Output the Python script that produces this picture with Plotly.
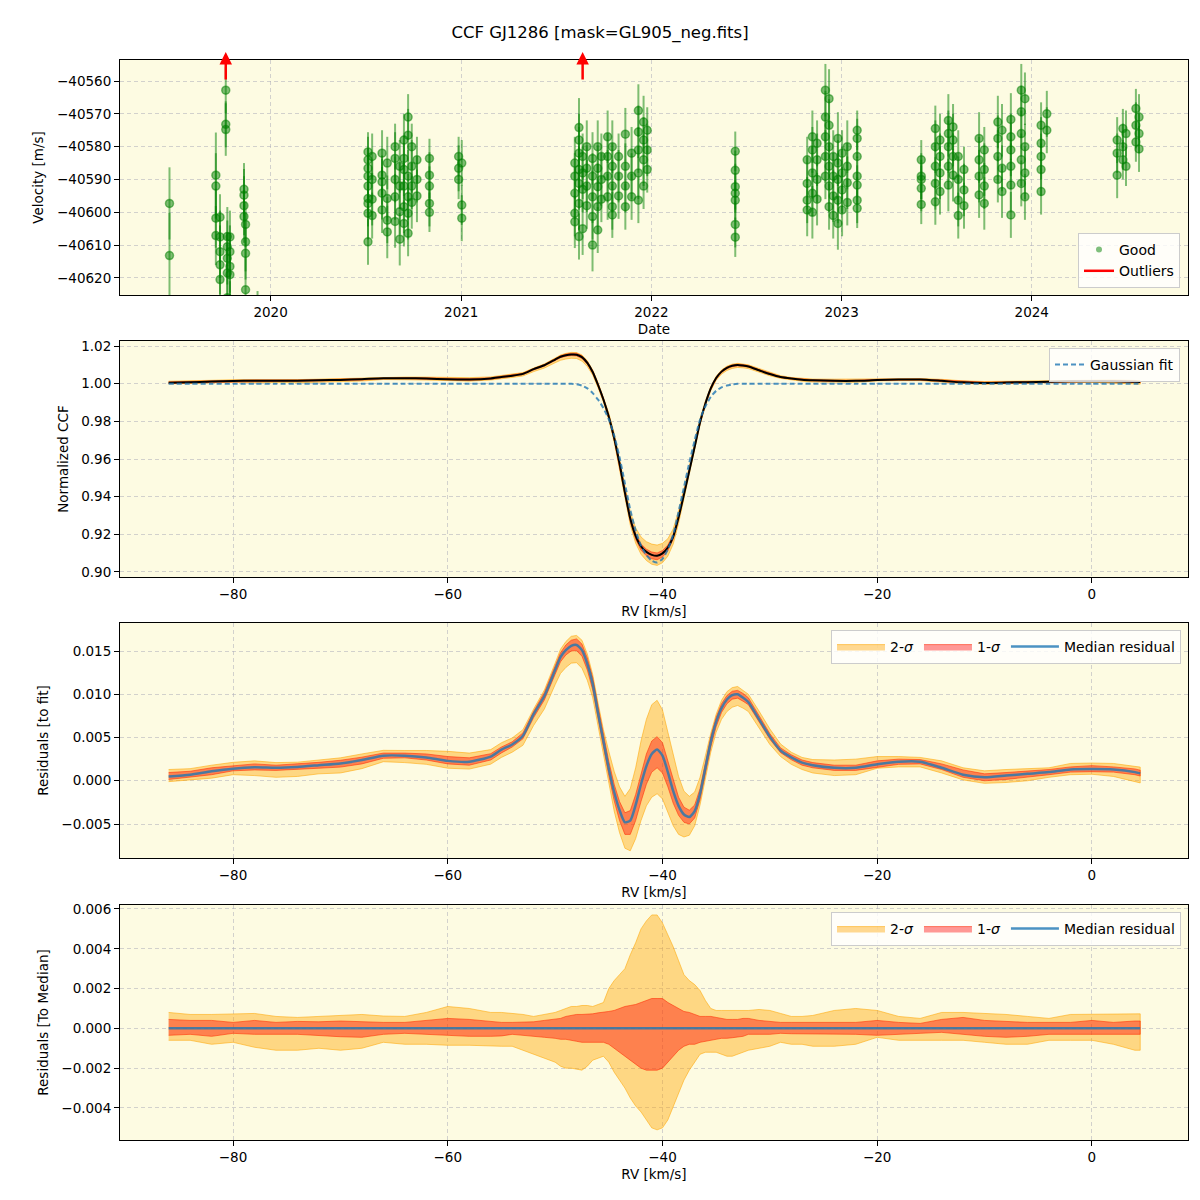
import numpy as np
import plotly.graph_objects as go

# ---------------- Panel 1 : RV time series ----------------
night_dates = [
    '2019-06-21', '2019-09-18', '2019-09-26', '2019-10-07', '2019-10-10', '2019-10-15',
    '2019-11-11', '2019-11-14', '2019-12-07',
    '2020-07-06', '2020-07-14', '2020-08-02', '2020-08-12', '2020-08-27', '2020-09-05',
    '2020-09-13', '2020-09-21', '2020-09-28', '2020-10-08', '2020-11-01', '2020-12-27', '2021-01-02',
    '2021-08-07', '2021-08-15', '2021-08-22', '2021-08-30', '2021-09-10', '2021-09-20',
    '2021-09-27', '2021-10-09', '2021-10-18', '2021-10-30', '2021-11-12', '2021-11-24',
    '2021-12-07', '2021-12-17', '2021-12-24',
    '2022-06-11', '2022-10-27', '2022-11-06', '2022-11-15', '2022-12-01', '2022-12-08',
    '2022-12-16', '2022-12-25', '2023-01-02', '2023-01-12', '2023-01-31',
    '2023-06-03', '2023-06-30', '2023-07-09', '2023-07-25', '2023-08-03', '2023-08-13',
    '2023-08-24', '2023-09-22', '2023-10-02', '2023-10-28', '2023-11-05', '2023-11-22',
    '2023-12-12', '2023-12-19', '2024-01-19', '2024-01-30',
    '2024-06-13', '2024-06-24', '2024-06-30', '2024-07-19', '2024-07-25',
]
night_rv = [
    [-40597.3, -40613.2],
    [-40588.7, -40592.0, -40601.8, -40607.1],
    [-40601.5, -40607.5, -40612.0, -40616.0, -40620.5],
    [-40562.8, -40573.2, -40574.8],
    [-40607.4, -40610.5, -40614.0, -40618.5, -40626.0],
    [-40607.5, -40612.0, -40616.5, -40619.0, -40630.0],
    [-40593.0, -40594.8, -40598.0, -40601.3],
    [-40603.7, -40609.0, -40612.5, -40623.6],
    [-40633.0],
    [-40581.6, -40584.0, -40586.6, -40589.0, -40592.0, -40595.8, -40597.3, -40600.3, -40609.0],
    [-40583.0, -40590.0, -40596.0, -40601.0],
    [-40582.0, -40588.7, -40590.7, -40594.2, -40599.3],
    [-40585.0, -40595.8, -40602.4, -40606.0],
    [-40580.0, -40583.6, -40590.0, -40595.3, -40602.8],
    [-40586.0, -40592.0, -40599.8, -40608.2],
    [-40578.0, -40583.6, -40587.0, -40592.0, -40598.3, -40603.4],
    [-40571.0, -40576.5, -40589.0, -40595.3, -40600.3, -40606.4],
    [-40580.0, -40586.0, -40592.0, -40597.0],
    [-40584.0, -40590.0, -40595.0],
    [-40583.6, -40588.7, -40592.0, -40597.3, -40600.0],
    [-40583.0, -40586.6, -40590.0],
    [-40585.0, -40597.8, -40601.8],
    [-40585.0, -40589.0, -40594.2, -40600.3, -40602.9],
    [-40574.2, -40578.0, -40582.0, -40587.0, -40591.2, -40597.3, -40607.4],
    [-40583.0, -40588.0, -40593.0, -40605.0],
    [-40580.0, -40586.6, -40592.0, -40598.0],
    [-40583.6, -40589.0, -40595.3, -40601.3, -40610.0],
    [-40580.0, -40586.6, -40592.2, -40598.3, -40605.4],
    [-40583.0, -40590.0, -40596.0],
    [-40577.0, -40583.0, -40589.0, -40595.3],
    [-40580.0, -40586.0, -40592.0, -40598.3, -40600.8],
    [-40583.0, -40589.0, -40595.0],
    [-40576.2, -40586.0, -40592.0, -40598.3],
    [-40582.0, -40589.0, -40595.3],
    [-40569.0, -40575.5, -40581.0, -40588.0, -40596.3],
    [-40572.5, -40578.0, -40584.0, -40592.0],
    [-40575.0, -40581.0, -40587.0],
    [-40581.4, -40587.2, -40592.2, -40594.2, -40596.3, -40603.7, -40607.6],
    [-40584.0, -40591.2, -40596.3, -40599.3],
    [-40577.0, -40581.0, -40588.0, -40594.2, -40600.0],
    [-40579.0, -40584.0, -40590.0, -40596.0],
    [-40562.8, -40571.0, -40577.0, -40583.0, -40589.0],
    [-40565.4, -40573.5, -40580.0, -40586.0, -40592.0, -40598.3],
    [-40583.0, -40589.0, -40595.0, -40601.0],
    [-40577.5, -40585.0, -40590.0, -40596.3, -40603.4],
    [-40582.0, -40588.0, -40593.2, -40599.3],
    [-40580.0, -40586.0, -40591.0, -40597.0],
    [-40575.0, -40577.5, -40583.0, -40589.0, -40591.7, -40596.3, -40598.8],
    [-40584.0, -40589.0, -40590.0, -40592.7, -40597.6],
    [-40574.5, -40580.0, -40586.0, -40591.2, -40596.8],
    [-40578.0, -40583.0, -40588.0, -40593.7],
    [-40572.0, -40576.0, -40580.0, -40586.0, -40591.7],
    [-40574.0, -40578.0, -40583.0, -40588.7],
    [-40583.0, -40590.0, -40596.3, -40601.0],
    [-40587.0, -40593.2, -40598.0],
    [-40577.5, -40584.0, -40589.0, -40594.7],
    [-40581.0, -40587.0, -40592.0, -40597.3],
    [-40572.5, -40577.5, -40583.0, -40590.0],
    [-40575.0, -40586.6, -40593.7],
    [-40571.7, -40577.0, -40581.0, -40586.0, -40591.7, -40600.8],
    [-40562.8, -40569.4, -40576.0, -40584.0, -40591.2],
    [-40565.4, -40580.0, -40588.0, -40595.3],
    [-40573.5, -40579.0, -40583.0, -40587.0, -40593.7],
    [-40570.0, -40575.0],
    [-40578.0, -40582.0, -40588.7],
    [-40574.5, -40580.0, -40584.0],
    [-40576.0, -40586.0],
    [-40568.4, -40573.5, -40578.6],
    [-40571.0, -40576.0, -40580.7],
]
night_err = [
    [11, 13], [13, 10, 9, 9], [7, 8, 8, 9, 9], [7, 7, 8], [9, 8, 8, 9, 10], [8, 8, 8, 7, 9],
    [8, 8, 9, 8], [7, 9, 8, 10], [9],
    [6, 7, 6, 7, 8, 6, 7, 8, 7], [7, 6, 8, 7], [7, 6, 7, 8, 7], [8, 7, 7, 8], [7, 8, 7, 7, 8],
    [8, 7, 7, 8], [8, 7, 8, 7, 8, 7], [7, 8, 8, 7, 8, 7], [7, 8, 7, 8], [7, 7, 8],
    [6, 7, 6, 7, 6], [6, 7, 6], [7, 6, 7],
    [8, 7, 8, 7, 8], [9, 8, 8, 7, 8, 8, 7], [7, 8, 7, 8], [8, 7, 8, 7], [8, 7, 8, 7, 8],
    [8, 7, 7, 8, 7], [7, 8, 7], [8, 7, 8, 7], [8, 7, 8, 7, 7], [7, 8, 7], [8, 7, 8, 7],
    [8, 7, 7], [8, 8, 7, 8, 7], [8, 7, 8, 7], [7, 8, 7],
    [6, 6, 7, 6, 6, 7, 6], [7, 8, 7, 8], [8, 7, 8, 7, 8], [7, 8, 7, 8], [8, 8, 7, 8, 7],
    [9, 8, 8, 7, 8, 7], [8, 7, 8, 7], [8, 7, 8, 7, 8], [7, 8, 7, 8], [8, 7, 8, 7],
    [6, 6, 7, 6, 6, 7, 6],
    [6, 7, 6, 7, 6], [7, 8, 7, 8, 7], [8, 7, 8, 7], [8, 7, 8, 7, 8], [7, 8, 7, 8],
    [8, 7, 8, 7], [7, 8, 7], [8, 7, 8, 7], [7, 8, 7, 8], [8, 7, 8, 7], [8, 7, 8],
    [8, 7, 8, 7, 8, 7], [8, 8, 7, 8, 7], [8, 7, 8, 7], [7, 8, 7, 8, 7], [7, 7],
    [7, 6, 7], [6, 7, 6], [7, 6], [6, 7, 6], [7, 6, 7],
]
outlier_dates = ['2019-10-07', '2021-08-22']
outlier_tail_rv = -40560.0

# ---------------- Panels 2-4 : CCF ----------------
rv = [-86, -84, -82, -80, -78, -76, -74, -72, -70, -68, -66, -64, -62, -60, -58, -56,
      -55, -54, -53, -52, -51, -50,
      -49.5, -49, -48.5, -48, -47.5, -47, -46.5, -46, -45.5, -45,
      -44.5, -44, -43.5, -43, -42.5, -42, -41.5, -41, -40.5, -40,
      -39.5, -39, -38.5, -38, -37.5, -37, -36.5, -36, -35.5, -35,
      -34.5, -34, -33.5, -33, -32.5, -32,
      -31, -30, -29, -28, -27, -26,
      -24, -22, -20, -18, -16, -14, -12, -10, -8, -6, -4, -2, 0, 2, 4, 4.5]

gauss_fit = [1.0] * 16 + [1.0] * 6 + [
    1.0, 1.0, 0.9999, 0.9997, 0.9990, 0.9975, 0.9950, 0.9915, 0.9870, 0.9810,
    0.9725, 0.9610, 0.9470, 0.9330, 0.9220, 0.9140, 0.9090, 0.9060, 0.9050, 0.9070,
    0.9120, 0.9200, 0.9320, 0.9450, 0.9580, 0.9700, 0.9810, 0.9880, 0.9930, 0.9962,
    0.9980, 0.9990, 0.9996, 0.9999, 1.0, 1.0] + [1.0] * 6 + [1.0] * 15 + [1.0]

resid_median = [
    0.0005, 0.0007, 0.0011, 0.0014, 0.00155, 0.0015, 0.0016, 0.0018, 0.0020, 0.0024, 0.0029, 0.0029, 0.0027, 0.0023, 0.0022, 0.0028,
    0.0036, 0.0042, 0.0052, 0.0077, 0.0098, 0.0128,
    0.0143, 0.0151, 0.0156, 0.0157, 0.0151, 0.0135, 0.0112, 0.0078, 0.0046, 0.0014,
    -0.0013, -0.0034, -0.0048, -0.0046, -0.0028, -0.0004, 0.0017, 0.0031, 0.0036, 0.0029,
    0.0010, -0.0012, -0.0029, -0.0039, -0.0042, -0.0035, -0.0015, 0.0015, 0.0045, 0.0068,
    0.0084, 0.0094, 0.0099, 0.0100, 0.0096, 0.0091,
    0.0071, 0.0051, 0.0035, 0.0027, 0.0021, 0.0018,
    0.0015, 0.0015, 0.0019, 0.0022, 0.0022, 0.0015, 0.0007, 0.0004, 0.0006, 0.0008, 0.0010, 0.0013, 0.00135, 0.0013, 0.0010,
    0.00085]

# spread of the individual CCFs around the median (relative to median)
sig2_up = [
    0.0008, 0.0007, 0.0007, 0.00073, 0.00075, 0.0006, 0.00055, 0.0006, 0.00065, 0.0007, 0.00062, 0.0006, 0.0008, 0.0011, 0.0010, 0.0008,
    0.0008, 0.00075, 0.0007, 0.0006, 0.0007, 0.0008,
    0.0009, 0.0010, 0.0011, 0.0011, 0.00115, 0.00115, 0.0011, 0.0012, 0.0013, 0.0020,
    0.0024, 0.0027, 0.0030, 0.0037, 0.0043, 0.0050, 0.0054, 0.0057, 0.0057, 0.0053,
    0.0047, 0.0041, 0.0034, 0.0027, 0.0024, 0.0022, 0.0019, 0.0014, 0.0010, 0.0009,
    0.0009, 0.0009, 0.00087, 0.0009, 0.0009, 0.0009,
    0.00095, 0.0009, 0.00075, 0.0006, 0.0006, 0.00065,
    0.0009, 0.0010, 0.0009, 0.0006, 0.0005, 0.0008, 0.0008, 0.00075, 0.0007, 0.0006, 0.0005, 0.0007, 0.0007, 0.0007, 0.00073,
    0.00073]
sig2_lo = [
    -0.0006, -0.0006, -0.0008, -0.0007, -0.00095, -0.0011, -0.0011, -0.0010, -0.0011, -0.0010, -0.0007, -0.0008, -0.0008, -0.00085, -0.00085, -0.00088,
    -0.0009, -0.0009, -0.0011, -0.0013, -0.0015, -0.0017,
    -0.0019, -0.0020, -0.0020, -0.00205, -0.0021, -0.0019, -0.0016, -0.0015, -0.0014, -0.0017,
    -0.0022, -0.0026, -0.0030, -0.0035, -0.0039, -0.0042, -0.0046, -0.0050, -0.0051, -0.0050,
    -0.0046, -0.0040, -0.0033, -0.0026, -0.0021, -0.0017, -0.0013, -0.0012, -0.0012, -0.0012,
    -0.0013, -0.0014, -0.0014, -0.0013, -0.0012, -0.0011,
    -0.0010, -0.0009, -0.0007, -0.0008, -0.0008, -0.0009,
    -0.0009, -0.0008, -0.00045, -0.0006, -0.0006, -0.0006, -0.0006, -0.0007, -0.0008, -0.0008, -0.0006, -0.0006, -0.0006, -0.0008, -0.0011,
    -0.0011]
sig1_up = [
    0.00045, 0.0004, 0.0004, 0.0003, 0.0004, 0.0003, 0.00035, 0.00033, 0.00037, 0.00033, 0.0003, 0.0003, 0.0004, 0.0005, 0.00045, 0.00033,
    0.0003, 0.0003, 0.00033, 0.00033, 0.0004, 0.00045,
    0.0005, 0.0006, 0.00065, 0.0007, 0.0007, 0.0007, 0.00073, 0.00078, 0.0008, 0.00085,
    0.0009, 0.0010, 0.0011, 0.00115, 0.0012, 0.0013, 0.0014, 0.0015, 0.0015, 0.0015,
    0.0013, 0.00115, 0.0010, 0.00085, 0.0008, 0.0007, 0.0006, 0.0006, 0.0006, 0.00055,
    0.0005, 0.00045, 0.00045, 0.00045, 0.0005, 0.0005,
    0.0004, 0.00035, 0.0003, 0.0003, 0.0003, 0.0003,
    0.0003, 0.0003, 0.0004, 0.0003, 0.00025, 0.00045, 0.00055, 0.0004, 0.00035, 0.0003, 0.0003, 0.0003, 0.0004, 0.0003, 0.00037,
    0.00037]
sig1_lo = [
    -0.00035, -0.0003, -0.0004, -0.00025, -0.0003, -0.0003, -0.0003, -0.00035, -0.00042, -0.00045, -0.0003, -0.00025, -0.0003, -0.00035, -0.0004, -0.0004,
    -0.00038, -0.0003, -0.00035, -0.0004, -0.00045, -0.0005,
    -0.00055, -0.00055, -0.0006, -0.00065, -0.0007, -0.0007, -0.0007, -0.0007, -0.0007, -0.0008,
    -0.0010, -0.0012, -0.0014, -0.0016, -0.0018, -0.0020, -0.0021, -0.0021, -0.0021, -0.0020,
    -0.0017, -0.0014, -0.0011, -0.0009, -0.0008, -0.0008, -0.0007, -0.00065, -0.0006, -0.00055,
    -0.0005, -0.0005, -0.00047, -0.00045, -0.0004, -0.0003,
    -0.0003, -0.0003, -0.00025, -0.00027, -0.0003, -0.0003,
    -0.0003, -0.0003, -0.00035, -0.0003, -0.00025, -0.0002, -0.0003, -0.0004, -0.00045, -0.0004, -0.0003, -0.0003, -0.0003, -0.0003, -0.0003,
    -0.0003]

# ---------------- derived ----------------
obs_date, obs_rv, obs_err = [], [], []
for d, vals, errs in zip(night_dates, night_rv, night_err):
    obs_date += [d] * len(vals)
    obs_rv += vals
    obs_err += errs

rv_a = np.array(rv, dtype=float)
fit_a = np.array(gauss_fit)
med_a = np.array(resid_median)
u2, l2 = np.array(sig2_up), np.array(sig2_lo)
u1, l1 = np.array(sig1_up), np.array(sig1_lo)
ccf_median = fit_a + med_a
to_median = med_a - med_a

FONT = 'DejaVu Sans'
BG = 'rgb(253,251,226)'
GRID = 'rgba(175,175,185,0.55)'
C2 = 'rgba(255,165,0,0.42)'
C2E = 'rgba(255,165,0,0.55)'
C1 = 'rgba(255,0,0,0.40)'
C1E = 'rgba(255,40,0,0.55)'
BLUE = 'rgba(31,119,180,0.8)'
GREEN = 'rgba(0,128,0,0.5)'

fig = go.Figure()


def band(xa, ya, lo, hi, fc, ec, name, show, legend):
    xs = list(xa) + list(xa[::-1])
    ys = list(hi) + list(lo[::-1])
    return go.Scatter(x=xs, y=ys, mode='lines', fill='toself', fillcolor=fc,
                      line=dict(color=ec, width=1), name=name, showlegend=show,
                      legend=legend, xaxis=ya[0], yaxis=ya[1], hoverinfo='skip')


# panel 1
fig.add_trace(go.Scatter(
    x=obs_date, y=obs_rv, mode='markers', name='Good', showlegend=False,
    marker=dict(color=GREEN, size=8, line=dict(color=GREEN, width=1.5)),
    error_y=dict(type='data', array=obs_err, color=GREEN, thickness=2, width=0),
    xaxis='x', yaxis='y'))
fig.add_trace(go.Scatter(x=[None], y=[None], mode='markers', name='Good',
                         marker=dict(color=GREEN, size=6), xaxis='x', yaxis='y', legend='legend'))
fig.add_trace(go.Scatter(x=[None], y=[None], mode='lines', name='Outliers',
                         line=dict(color='red', width=2.5), xaxis='x', yaxis='y', legend='legend'))

# panel 2
fig.add_trace(band(rv_a, ('x2', 'y2'), ccf_median + l2, ccf_median + u2, C2, C2E, '2-σ', False, 'legend2'))
fig.add_trace(band(rv_a, ('x2', 'y2'), ccf_median + l1, ccf_median + u1, C1, C1E, '1-σ', False, 'legend2'))
fig.add_trace(go.Scatter(x=rv, y=ccf_median, mode='lines', line=dict(color='black', width=2, shape='spline', smoothing=0.6),
                         showlegend=False, xaxis='x2', yaxis='y2'))
fig.add_trace(go.Scatter(x=rv, y=gauss_fit, mode='lines', name='Gaussian fit',
                         line=dict(color=BLUE, width=2, dash='5px,3px', shape='spline', smoothing=0.6),
                         xaxis='x2', yaxis='y2', legend='legend2'))

# panel 3
fig.add_trace(band(rv_a, ('x3', 'y3'), med_a + l2, med_a + u2, C2, C2E, '2-<i>σ</i>', True, 'legend3'))
fig.add_trace(band(rv_a, ('x3', 'y3'), med_a + l1, med_a + u1, C1, C1E, '1-<i>σ</i>', True, 'legend3'))
fig.add_trace(go.Scatter(x=rv, y=resid_median, mode='lines', name='Median residual',
                         line=dict(color=BLUE, width=2.5, shape='spline', smoothing=0.6),
                         xaxis='x3', yaxis='y3', legend='legend3'))

# panel 4
fig.add_trace(band(rv_a, ('x4', 'y4'), to_median + l2, to_median + u2, C2, C2E, '2-<i>σ</i>', True, 'legend4'))
fig.add_trace(band(rv_a, ('x4', 'y4'), to_median + l1, to_median + u1, C1, C1E, '1-<i>σ</i>', True, 'legend4'))
fig.add_trace(go.Scatter(x=rv, y=to_median, mode='lines', name='Median residual',
                         line=dict(color=BLUE, width=2.5),
                         xaxis='x4', yaxis='y4', legend='legend4'))

H = 1200.0


def ydom(top_px, bot_px):
    return [1 - bot_px / H, 1 - top_px / H]


common = dict(showgrid=True, gridcolor=GRID, griddash='4px,3px', gridwidth=1, zeroline=False,
              showline=True, linecolor='black', linewidth=1, mirror=True,
              ticks='outside', ticklen=5, tickwidth=1, tickcolor='black',
              tickfont=dict(family=FONT, size=13.5, color='black'), automargin=False)
xdom = [120 / 1200, 1188 / 1200]
tfont = dict(family=FONT, size=13.5, color='black')
lfont = dict(family=FONT, size=14, color='black')

rv_range = [-90.53, 8.95]
layout = dict(
    width=1200, height=1200, margin=dict(l=0, r=0, t=0, b=0),
    paper_bgcolor='white', plot_bgcolor=BG,
    font=dict(family=FONT, size=13, color='black'),
    title=dict(text='CCF GJ1286 [mask=GL905_neg.fits]', x=0.5, xanchor='center', y=1 - 32 / H, yanchor='middle',
               font=dict(family=FONT, size=16.5, color='black')),
    xaxis=dict(common, domain=xdom, anchor='y', type='date', range=['2019-03-18', '2024-10-27'],
               dtick='M12', tick0='2020-01-01', tickformat='%Y',
               title=dict(text='Date', font=tfont, standoff=5)),
    yaxis=dict(common, domain=ydom(60, 295), anchor='x', range=[-40625.2, -40553.6], dtick=10,
               tickformat='d', title=dict(text='Velocity [m/s]', font=tfont, standoff=10)),
    xaxis2=dict(common, domain=xdom, anchor='y2', range=rv_range, dtick=20, tick0=0,
                title=dict(text='RV [km/s]', font=tfont, standoff=5)),
    yaxis2=dict(common, domain=ydom(341, 577), anchor='x2', range=[0.89734, 1.02266], dtick=0.02,
                tickformat='.2f', title=dict(text='Normalized CCF', font=tfont, standoff=9)),
    xaxis3=dict(common, domain=xdom, anchor='y3', range=rv_range, dtick=20, tick0=0,
                title=dict(text='RV [km/s]', font=tfont, standoff=5)),
    yaxis3=dict(common, domain=ydom(623, 858), anchor='x3', range=[-0.00893, 0.01824], dtick=0.005,
                tickformat='.3f', title=dict(text='Residuals [to fit]', font=tfont, standoff=9)),
    xaxis4=dict(common, domain=xdom, anchor='y4', range=rv_range, dtick=20, tick0=0,
                title=dict(text='RV [km/s]', font=tfont, standoff=5)),
    yaxis4=dict(common, domain=ydom(905, 1140), anchor='x4', range=[-0.00561, 0.0062], dtick=0.002,
                tickformat='.3f', title=dict(text='Residuals [To Median]', font=tfont, standoff=9)),
    legend=dict(x=1180 / 1200, y=1 - 288 / H, xanchor='right', yanchor='bottom',
                bgcolor='rgba(255,255,255,0.8)', bordercolor='#cccccc', borderwidth=1,
                font=lfont, itemwidth=30),
    legend2=dict(x=1180 / 1200, y=1 - 348 / H, xanchor='right', yanchor='top',
                 bgcolor='rgba(255,255,255,0.8)', bordercolor='#cccccc', borderwidth=1,
                 font=lfont, itemwidth=30),
    legend3=dict(x=1181 / 1200, y=1 - 630 / H, xanchor='right', yanchor='top', orientation='h',
                 bgcolor='rgba(255,255,255,0.8)', bordercolor='#cccccc', borderwidth=1,
                 font=lfont, itemwidth=48),
    legend4=dict(x=1181 / 1200, y=1 - 912 / H, xanchor='right', yanchor='top', orientation='h',
                 bgcolor='rgba(255,255,255,0.8)', bordercolor='#cccccc', borderwidth=1,
                 font=lfont, itemwidth=48),
)
fig.update_layout(layout)

# outlier arrows (tail on the -40560 level, head just above the panel)
head_rv = -40553.6 + 2.4
for d in outlier_dates:
    fig.add_annotation(x=d, y=head_rv, xref='x', yref='y', ax=d, ay=outlier_tail_rv, axref='x', ayref='y',
                       text='', showarrow=True, arrowhead=2, arrowsize=1, arrowwidth=2.5,
                       arrowcolor='red', standoff=0, startstandoff=0)

fig.write_html('out.html', config={'displayModeBar': False},
               post_script="document.body.style.margin='0';")
